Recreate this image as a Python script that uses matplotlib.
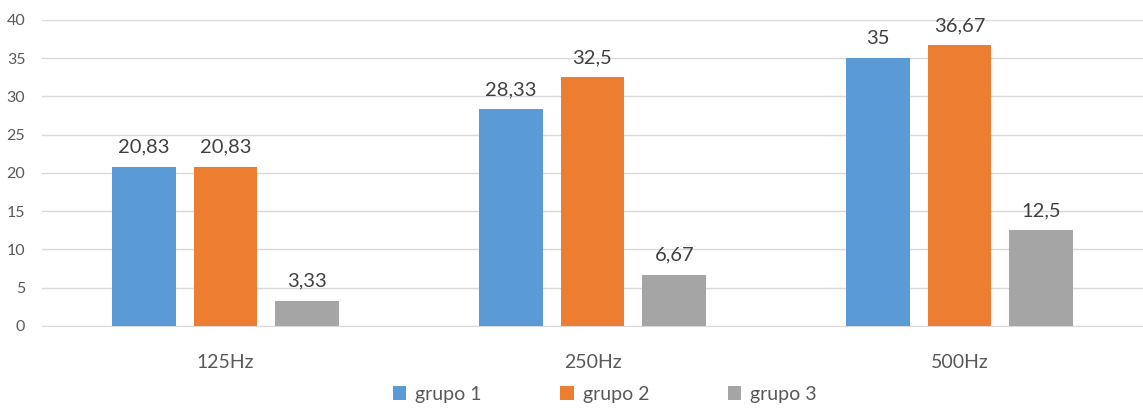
import matplotlib
matplotlib.use("Agg")
import matplotlib.pyplot as plt
import numpy as np

categories = ["125Hz", "250Hz", "500Hz"]
series_names = ["grupo 1", "grupo 2", "grupo 3"]
grupo1 = [20.83, 28.33, 35]
grupo2 = [20.83, 32.5, 36.67]
grupo3 = [3.33, 6.67, 12.5]
colors = ["#5B9BD5", "#ED7D31", "#A5A5A5"]

plt.rcParams["font.family"] = ["Lato", "DejaVu Sans"]

fig = plt.figure(figsize=(11.43, 4.08), dpi=100)
ax = fig.add_axes([0.0367, 0.201, 0.9633, 0.75])

x = np.arange(len(categories))
width = 0.174
step = 0.223

def fmt(v):
    s = f"{v:.2f}".rstrip("0").rstrip(".")
    return s.replace(".", ",")

for i, (vals, name, c) in enumerate(zip([grupo1, grupo2, grupo3], series_names, colors)):
    bars = ax.bar(x + (i - 1) * step, vals, width, color=c, label=name, zorder=3)
    for b, v in zip(bars, vals):
        ax.annotate(fmt(v), (b.get_x() + b.get_width() / 2, v),
                    xytext=(0, 8), textcoords="offset points",
                    ha="center", va="bottom", fontsize=14.5, color="#404040")

ax.set_xlim(-0.5, 2.5)
ax.set_ylim(0, 40)
ax.set_yticks(range(0, 41, 5))
ax.yaxis.grid(True, color="#D9D9D9", linewidth=1, zorder=0)
ax.set_axisbelow(True)
for s in ["top", "right", "left"]:
    ax.spines[s].set_visible(False)
ax.spines["bottom"].set_color("#D9D9D9")
ax.tick_params(axis="y", length=0, pad=12, labelsize=11.5, labelcolor="#595959")
ax.tick_params(axis="x", length=0, pad=20, labelsize=14, labelcolor="#595959")
ax.set_xticks(x)
ax.set_xticklabels(categories)

leg = fig.legend(loc="lower center", bbox_to_anchor=(0.529, -0.03), ncol=3, frameon=False,
                 fontsize=14, handlelength=0.7, handleheight=0.7, columnspacing=4.05,
                 handletextpad=0.45)
for t in leg.get_texts():
    t.set_color("#595959")

fig.savefig("out.png", dpi=100)
